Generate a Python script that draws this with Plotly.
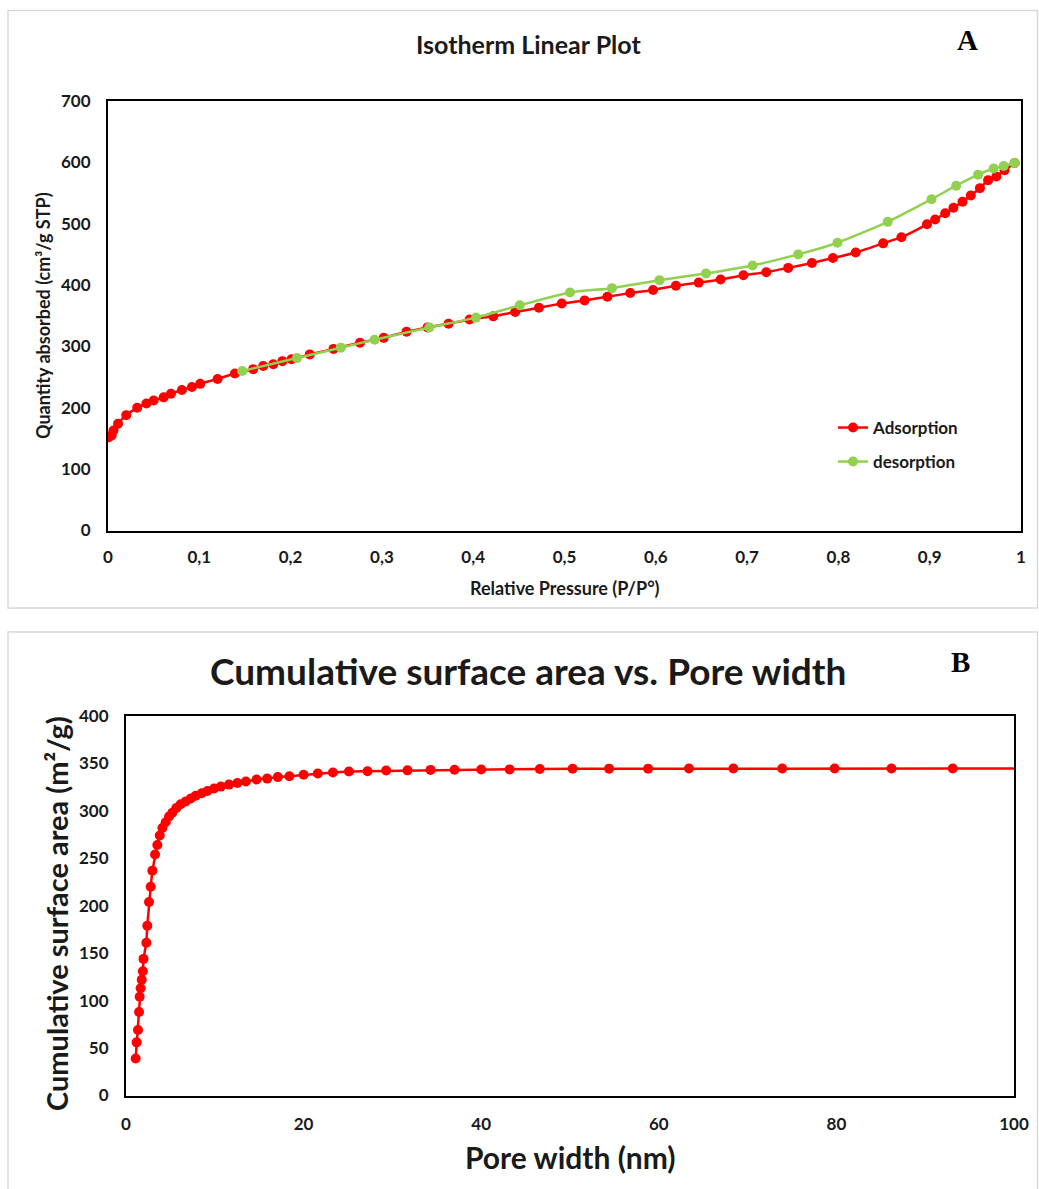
import plotly.graph_objects as go

# ---------------- Panel A data: isotherm ----------------
p_ads = [0.001, 0.004, 0.006, 0.011, 0.020, 0.032, 0.042, 0.050, 0.061, 0.069,
         0.081, 0.092, 0.101, 0.120, 0.139, 0.159, 0.170, 0.181, 0.191, 0.201,
         0.221, 0.247, 0.276, 0.302, 0.327, 0.350, 0.373, 0.396, 0.422, 0.446,
         0.472, 0.497, 0.522, 0.547, 0.572, 0.597, 0.622, 0.647, 0.671, 0.696,
         0.721, 0.745, 0.771, 0.794, 0.819, 0.849, 0.869, 0.897, 0.906, 0.917,
         0.926, 0.936, 0.945, 0.955, 0.964, 0.973, 0.982, 0.993]
q_ads = [152, 155, 163, 174, 188, 200, 207, 212, 217, 223,
         229, 234, 239, 247, 256, 263, 268, 271, 276, 279,
         287, 296, 306, 314, 324, 331, 337, 344, 349, 356,
         363, 370, 375, 381, 387, 392, 399, 404, 409, 416,
         421, 428, 436, 444, 453, 468, 478, 499, 507, 517,
         526, 536, 546, 558, 571, 577, 587, 599]

p_des = [0.147, 0.207, 0.255, 0.292, 0.352, 0.403, 0.451, 0.506, 0.552, 0.604,
         0.655, 0.706, 0.756, 0.799, 0.854, 0.902, 0.929, 0.953, 0.970, 0.981, 0.993]
q_des = [260, 281, 298, 311, 331, 347, 367, 388, 395, 408,
         419, 432, 450, 469, 503, 540, 562, 580, 590, 594, 599]

xa_tickvals = [0, 0.1, 0.2, 0.3, 0.4, 0.5, 0.6, 0.7, 0.8, 0.9, 1]
xa_ticktext = ["0", "0,1", "0,2", "0,3", "0,4", "0,5", "0,6", "0,7", "0,8", "0,9", "1"]
ya_tickvals = [0, 100, 200, 300, 400, 500, 600, 700]

# ---------------- Panel B data: cumulative surface area ----------------
pore_width = [1.09, 1.20, 1.35, 1.47, 1.54, 1.65, 1.77, 1.90, 1.97, 2.29,
              2.40, 2.59, 2.78, 2.97, 3.27, 3.53, 3.80, 4.10, 4.47, 4.85,
              5.22, 5.67, 6.16, 6.73, 7.29, 7.85, 8.53, 9.17, 9.92, 10.68,
              11.6, 12.55, 13.5, 14.7, 15.9, 17.1, 18.4, 20.0, 21.6, 23.3,
              25.1, 27.2, 29.3, 31.7, 34.3, 37.0, 40.0, 43.2, 46.6, 50.3,
              54.4, 58.8, 63.4, 68.4, 73.9, 79.8, 86.2, 93.1, 100.6]
cum_area = [39, 56, 69, 88, 104, 113, 122, 131, 144, 161,
            179, 204, 220, 237, 254, 264, 274, 282, 288, 294,
            298, 303, 307, 310, 313, 316, 318.5, 321, 323.5, 325.6,
            327.7, 329.4, 331, 333, 334, 335.6, 336.5, 338, 339.4, 340.4,
            341.5, 341.8, 342.5, 342.7, 343.2, 343.3, 343.6, 343.7, 344.2, 344.4,
            344.5, 344.5, 344.6, 344.6, 344.6, 344.6, 344.6, 344.6, 344.6]

xb_tickvals = [0, 20, 40, 60, 80, 100]
yb_tickvals = [0, 50, 100, 150, 200, 250, 300, 350, 400]

W, H = 1039, 1189
RED = "#FF0000"
GREEN = "#92D050"
FONT = "Lato"
TXT = "#1a1a1a"


def px(x):
    return x / W


def py(y):
    return 1 - y / H


fig = go.Figure()

fig.add_trace(go.Scatter(
    x=p_ads, y=q_ads, name="Adsorption", mode="lines+markers",
    line=dict(color=RED, width=2.5, shape="spline", smoothing=0.5),
    marker=dict(color=RED, size=10),
    xaxis="x", yaxis="y", legend="legend"))
fig.add_trace(go.Scatter(
    x=p_des, y=q_des, name="desorption", mode="lines+markers",
    line=dict(color=GREEN, width=2.5, shape="spline", smoothing=0.6),
    marker=dict(color=GREEN, size=10),
    xaxis="x", yaxis="y", legend="legend2"))
fig.add_trace(go.Scatter(
    x=pore_width, y=cum_area, name="Cumulative", mode="lines+markers",
    line=dict(color=RED, width=2.5),
    marker=dict(color=RED, size=10),
    xaxis="x2", yaxis="y2", showlegend=False))


def axis_style(size):
    return dict(showgrid=False, zeroline=False, showline=True, mirror=True,
                linecolor="black", linewidth=2, ticks="", automargin=False,
                tickfont=dict(family=FONT, size=size, color=TXT, weight="bold"))


legend_font = dict(family=FONT, size=17, color=TXT, weight="bold")

fig.update_layout(
    template="none",
    width=W, height=H,
    margin=dict(l=0, r=0, t=0, b=0, pad=0, autoexpand=False),
    paper_bgcolor="white", plot_bgcolor="white",
    xaxis=dict(domain=[px(108), px(1021)], range=[0, 1], anchor="y",
               tickvals=xa_tickvals, ticktext=xa_ticktext, ticklabelstandoff=10,
               **axis_style(17)),
    yaxis=dict(domain=[py(530.5), py(101)], range=[0, 700], anchor="x",
               tickvals=ya_tickvals, ticklabelstandoff=12, **axis_style(17)),
    xaxis2=dict(domain=[px(126), px(1014)], range=[0, 100], anchor="y2",
                tickvals=xb_tickvals, ticklabelstandoff=12, **axis_style(17)),
    yaxis2=dict(domain=[py(1095.5), py(716)], range=[0, 400], anchor="x2",
                tickvals=yb_tickvals, ticklabelstandoff=12, **axis_style(17)),
    legend=dict(x=px(833), y=py(410), xanchor="left", yanchor="top",
                bgcolor="rgba(0,0,0,0)", borderwidth=0, font=legend_font),
    legend2=dict(x=px(833), y=py(444), xanchor="left", yanchor="top",
                 bgcolor="rgba(0,0,0,0)", borderwidth=0, font=legend_font),
    showlegend=True,
)

# outer chart borders
fig.add_shape(type="rect", xref="paper", yref="paper",
              x0=px(8), x1=px(1037.5), y0=py(608), y1=py(10.5),
              line=dict(color="#d9d9d9", width=1.5), layer="below")
fig.add_shape(type="rect", xref="paper", yref="paper",
              x0=px(8), x1=px(1037.5), y0=py(1195), y1=py(632),
              line=dict(color="#d9d9d9", width=1.5), layer="below")

ann = [
    dict(text="Isotherm Linear Plot", x=px(528), y=py(44), size=25),
    dict(text="Relative Pressure (P/P°)", x=px(565), y=py(588), size=18),
    dict(text="Quantity absorbed (cm³/g STP)", x=px(43), y=py(316), size=18, angle=-90),
    dict(text="Cumulative surface area vs. Pore width", x=px(528), y=py(670), size=37),
    dict(text="Pore width (nm)", x=px(570), y=py(1157), size=30),
    dict(text="Cumulative surface area (m²/g)", x=px(56), y=py(914), size=29, angle=-90),
]
for a in ann:
    fig.add_annotation(text=a["text"], x=a["x"], y=a["y"], xref="paper", yref="paper",
                       showarrow=False, xanchor="center", yanchor="middle",
                       textangle=a.get("angle", 0),
                       font=dict(family=FONT, size=a["size"], color=TXT, weight="bold"))

for letter, x, y in [("A", 967, 40), ("B", 960, 662)]:
    fig.add_annotation(text=letter, x=px(x), y=py(y), xref="paper", yref="paper",
                       showarrow=False, xanchor="center", yanchor="middle",
                       font=dict(family="Liberation Serif", size=29, color="black", weight="bold"))

fig.write_html("out.html")
